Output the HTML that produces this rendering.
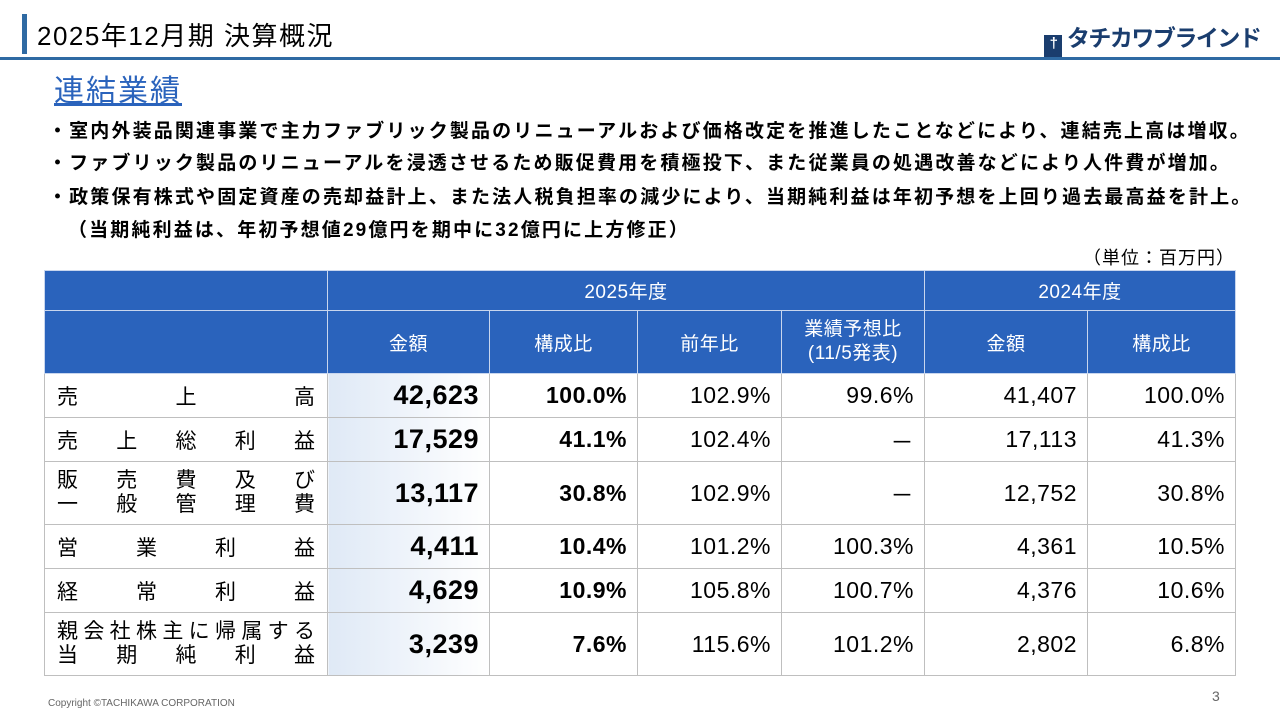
<!DOCTYPE html>
<html><head><meta charset="utf-8"><style>
body{margin:0;width:1280px;height:720px;background:#fff;position:relative;overflow:hidden;font-family:"Liberation Sans","Noto Sans CJK JP",sans-serif;color:#000}
.abs{position:absolute}
table{position:absolute;left:44px;top:270px;border-collapse:collapse;table-layout:fixed}
td{border:1.5px solid #bfbfbf;padding:0 10px;font-size:23px;text-align:right;white-space:nowrap;letter-spacing:0.5px}
.h td{background:#2a63bc;color:#fff;text-align:center;font-size:19px;border-color:#c8d6ee;letter-spacing:0.5px}
.lab{text-align:justify;text-align-last:justify;font-size:21px;letter-spacing:0;padding:0 12px}
.amt{font-weight:bold;font-size:27px;background:linear-gradient(90deg,#dfe9f6,#ffffff)}
.b{font-weight:bold}
.bul{font-size:19px;font-weight:bold;left:48px;letter-spacing:2.15px;white-space:nowrap}
</style></head><body>
<div class="abs" style="left:22px;top:14px;width:5px;height:40px;background:#2f6aa3"></div>
<div class="abs" style="left:37px;top:16px;font-size:26px;letter-spacing:1.5px">2025年12月期 決算概況</div>
<div class="abs" style="left:0;top:57px;width:1280px;height:3px;background:#2f6aa3"></div>
<div class="abs" style="left:1044px;top:19px;font-size:23px;font-weight:bold;color:#1a3d6e;letter-spacing:-1.5px;white-space:nowrap"><span style="display:inline-block;width:18px;height:22px;background:#1a3d6e;color:#fff;font-size:15px;text-align:center;vertical-align:-2px">†</span> タチカワブラインド</div>
<div class="abs" style="left:54px;top:66px;font-size:30px;letter-spacing:2px;color:#2a63bc;text-decoration:underline">連結業績</div>
<div class="abs bul" style="top:116px">・室内外装品関連事業で主力ファブリック製品のリニューアルおよび価格改定を推進したことなどにより、連結売上高は増収。</div>
<div class="abs bul" style="top:148px">・ファブリック製品のリニューアルを浸透させるため販促費用を積極投下、また従業員の処遇改善などにより人件費が増加。</div>
<div class="abs bul" style="top:182px">・政策保有株式や固定資産の売却益計上、また法人税負担率の減少により、当期純利益は年初予想を上回り過去最高益を計上。</div>
<div class="abs bul" style="top:215px;left:68px">（当期純利益は、年初予想値29億円を期中に32億円に上方修正）</div>
<div class="abs" style="right:45px;top:244px;font-size:18px;letter-spacing:1px">（単位：百万円）</div>
<table>
<colgroup><col style="width:283px"><col style="width:162px"><col style="width:148px"><col style="width:144px"><col style="width:143px"><col style="width:163px"><col style="width:148px"></colgroup>
<tr class="h" style="height:40px"><td></td><td colspan="4">2025年度</td><td colspan="2">2024年度</td></tr>
<tr class="h" style="height:63px"><td></td><td>金額</td><td>構成比</td><td>前年比</td><td style="line-height:24px">業績予想比<br>(11/5発表)</td><td>金額</td><td>構成比</td></tr>
<tr style="height:44px"><td class="lab">売　上　高</td><td class="amt">42,623</td><td class="b">100.0%</td><td>102.9%</td><td>99.6%</td><td>41,407</td><td>100.0%</td></tr>
<tr style="height:44px"><td class="lab">売上総利益</td><td class="amt">17,529</td><td class="b">41.1%</td><td>102.4%</td><td>－</td><td>17,113</td><td>41.3%</td></tr>
<tr style="height:63px"><td class="lab" style="line-height:24px">販売費及び<br>一般管理費</td><td class="amt">13,117</td><td class="b">30.8%</td><td>102.9%</td><td>－</td><td>12,752</td><td>30.8%</td></tr>
<tr style="height:44px"><td class="lab">営業利益</td><td class="amt">4,411</td><td class="b">10.4%</td><td>101.2%</td><td>100.3%</td><td>4,361</td><td>10.5%</td></tr>
<tr style="height:44px"><td class="lab">経常利益</td><td class="amt">4,629</td><td class="b">10.9%</td><td>105.8%</td><td>100.7%</td><td>4,376</td><td>10.6%</td></tr>
<tr style="height:63px"><td class="lab" style="line-height:24px">親会社株主に帰属する<br>当期純利益</td><td class="amt">3,239</td><td class="b">7.6%</td><td>115.6%</td><td>101.2%</td><td>2,802</td><td>6.8%</td></tr>
</table>
<div class="abs" style="left:48px;top:698px;font-size:10px;color:#666">Copyright ©TACHIKAWA CORPORATION</div>
<div class="abs" style="left:1212px;top:688px;font-size:14px;color:#666">3</div>
</body></html>
